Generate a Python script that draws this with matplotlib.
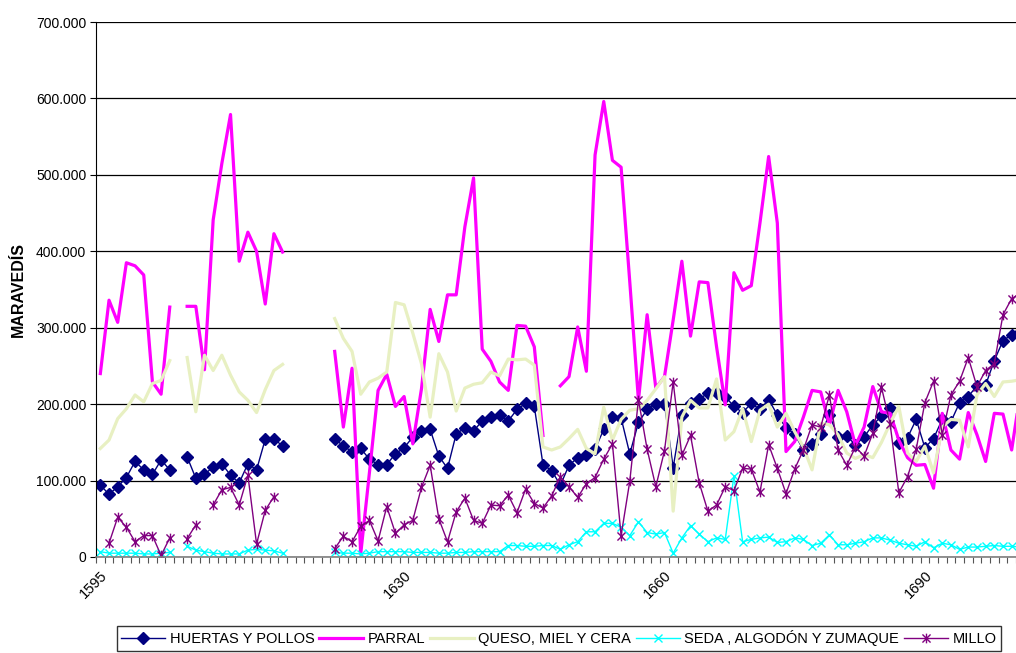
import numpy as np
import matplotlib
matplotlib.use('Agg')
import matplotlib.pyplot as plt
from matplotlib.path import Path
from matplotlib.ticker import FuncFormatter, FixedLocator

plt.rcParams['font.family'] = ['Liberation Sans', 'DejaVu Sans']

nan = np.nan
years = np.arange(1595, 1702)

# values in thousands of maravedis, nan = no data
huertas = ([94, 82, 92, 104, 125, 114, 108, 127, 114, nan,
            131, 103, 108, 118, 122, 107, 97, 122, 114, 154, 155, 145]
           + [nan] * 5
           + [155, 145, 138, 142, 128, 121, 121, 135, 143, 157, 165, 167, 132, 116, 161, 169,
              165, 178, 183, 186, 178, 193, 201, 197]
           + [121, 113, 94, 120, 130, 133, 141, 167, 183, 182, 135, 176, 193, 200, 200, 117,
              186, 201, 207, 214, 215, 210, 197, 189, 201]
           + [193, 206, 186, 169, 161, 140, 148, 161, 186, 157, 158, 147, 157, 173, 184, 195,
              149, 156, 180, 143, 155, 180, 177, 202, 210, 224, 225, 257, 283, 291, 294])

parral = ([240, 336, 307, 385, 381, 369, 229, 213, 327, nan,
           328, 328, 245, 441, 515, 579, 387, 425, 400, 331, 423, 399]
          + [nan] * 5
          + [269, 170, 247, 4, 110, 218, 239, 197, 210, 148, 220, 324, 282, 343, 343, 432,
             496, 272, 256, 229, 218, 303, 302, 275, 159, nan]
          + [224, 236, 301, 243, 526, 596, 519, 510, 360, 205, 317, 221, 236, 310, 387, 289,
             360, 359, 275, 199, 372, 349, 355]
          + [437, 524, 437, 138, 151, 183, 218, 216, 173, 218, 190, 146, 170, 223, 190, 188,
             153, 130, 120, 121, 90, 188, 140, 128, 189, 160, 125, 188, 187, 140, 215])

queso = ([142, 153, 181, 194, 212, 203, 227, 231, 257, nan,
          261, 190, 264, 244, 264, 238, 216, 205, 189, 219, 244, 252]
         + [nan] * 5
         + [312, 286, 269, 213, 229, 234, 242, 333, 330, 293, 253, 183, 266, 242, 191, 221,
            226, 228, 242, 237, 259, 258, 259, 251]
         + [144, 140, 144, 155, 167, 142, 135, 196, 153, 180, 192, 194, 205, 220, 236, 60,
            183, 205, 195, 195, 233, 153, 164, 194, 151, 192, 200, 170, 188]
         + [164, 144, 114, 175, 173, 160, 136, 129, 134, 130, 150, 175, 197, 136, 125, 145,
            110, 170, 180, 179, 144, 212, 227, 210, 229, 230, 232])

seda = ([7, 5, 5, 5, 5, 4, 4, 5, 6, nan,
         14, 9, 7, 5, 4, 4, 4, 9, 10, 9, 8, 5]
        + [nan] * 5
        + [6, 5, 5, 4, 5, 7, 7, 7, 7, 6, 6, 6, 5, 5, 6, 6, 7, 7, 7, 7,
           15, 15, 14, 14, 15, 15]
        + [10, 16, 20, 33, 33, 44, 44, 39, 28, 46, 32, 30, 32, 5, 25, 41, 30, 20, 25, 23,
           106, 20, 23, 25, 26, 19, 20]
        + [25, 23, 15, 18, 29, 16, 16, 18, 20, 25, 25, 22, 18, 16, 14, 20, 12, 18, 16, 10,
           13, 13, 14, 15, 14, 14, 13])

millo = ([nan, 18, 52, 39, 20, 28, 28, 2, 25, nan,
          24, 42, nan, 68, 88, 91, 68, 107, 17, 61, 79]
         + [nan] * 6
         + [11, 27, 20, 40, 48, 21, 66, 31, 42, 48, 91, 120, 50, 20, 59, 77, 48, 44, 68, 67,
            81, 58, 89, 70, 64, 80]
         + [105, 92, 78, 96, 104, 128, 148, 28, 99, 206, 141, 92, 139, 229, 133, 159, 97, 60,
            68, 92, 87, 116, 115, 85, 147, 116, 83, 115, 140, 173, 170, 212, 140, 120, 144,
            132, 162, 222, 174, 84, 105, 141, 202, 230, 160, 212, 230, 261, 223, 244, 253,
            317, 338, 345])

labels = ['HUERTAS Y POLLOS', 'PARRAL', 'QUESO, MIEL Y CERA',
          'SEDA , ALGODÓN Y ZUMAQUE', 'MILLO']
label_years = [1595, 1630, 1660, 1690]

star = Path([(-1, -1), (1, 1), (-1, 1), (1, -1), (0, -1.2), (0, 1.2)],
            [Path.MOVETO, Path.LINETO, Path.MOVETO, Path.LINETO, Path.MOVETO, Path.LINETO])

fig = plt.figure(figsize=(10.16, 6.53), dpi=100)
ax = fig.add_axes([96 / 1016, 1 - 557 / 653, (1016 - 96) / 1016, (557 - 22) / 653])

ax.plot(years, huertas, color='#000080', lw=1.0, marker='D', ms=6.3, label=labels[0])
ax.plot(years, parral, color='#ff00ff', lw=2.3, label=labels[1])
ax.plot(years, queso, color='#e8f0c2', lw=2.3, label=labels[2])
ax.plot(years, seda, color='#00ffff', lw=1.0, marker='x', ms=6, mew=1.0, label=labels[3])
ax.plot(years, millo, color='#800080', lw=1.0, marker=star, ms=7, mew=1.0, label=labels[4])

ax.set_xlim(1594.5, 1700.25)
ax.set_ylim(0, 700)
ax.yaxis.set_major_locator(FixedLocator(range(0, 701, 100)))
ax.yaxis.set_major_formatter(FuncFormatter(lambda v, p: '0' if v == 0 else f'{v:.0f}.000'))
ax.grid(axis='y', color='black', lw=0.9)
ax.set_axisbelow(True)

ax.set_xticks(label_years)
ax.set_xticklabels([str(y) for y in label_years], rotation=45, ha='right', va='top',
                   rotation_mode='anchor', fontsize=10.5)
ax.set_xticks(np.arange(1594.5, 1701, 1), minor=True)
ax.tick_params(axis='x', which='major', length=0, pad=8)
ax.tick_params(axis='x', which='minor', length=4, width=0.8, color='#555555', direction='out')
ax.tick_params(axis='y', length=4, width=0.8, color='black', labelsize=10, pad=3)

for s in ['top', 'right']:
    ax.spines[s].set_visible(False)
ax.spines['left'].set_color('black')
ax.spines['bottom'].set_color('#808080')
ax.spines['bottom'].set_linewidth(1.2)

ax.set_ylabel('MARAVEDÍS', fontsize=11.5, fontweight='bold', labelpad=7)

h, l = ax.get_legend_handles_labels()
leg = fig.legend(h, l, loc='upper left', bbox_to_anchor=(117 / 1016, 1 - 626 / 653),
                 ncol=5, fontsize=10.5, frameon=True, fancybox=False, edgecolor='black',
                 handlelength=3.0, handletextpad=0.3, columnspacing=0.35,
                 borderpad=0.3, borderaxespad=0)
leg.get_frame().set_linewidth(1.0)

fig.savefig('out.png', dpi=100)
